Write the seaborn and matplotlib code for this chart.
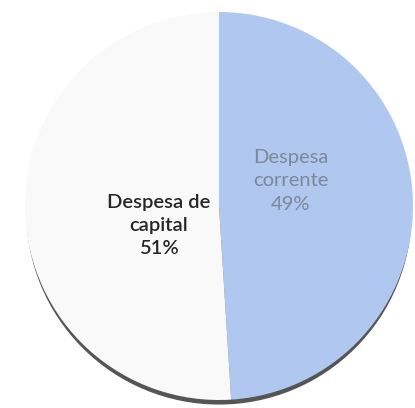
import matplotlib
matplotlib.use("Agg")
import matplotlib.pyplot as plt
from matplotlib.patches import Circle
import seaborn as sns

# Data
labels = ["Despesa\ncorrente", "Despesa de\ncapital"]
shares = [49, 51]
colors = ["#b0c8f0", "#f9f9f9"]
text_colors = ["#7b8898", "#262626"]
weights = ["normal", "semibold"]

sns.set_theme(style="white")
plt.rcParams['font.family'] = ['Lato', 'DejaVu Sans']

fig = plt.figure(figsize=(4.15, 4.08), dpi=100)
ax = fig.add_axes([0, 0, 1, 1])

# shadow under the pie (only shows along the bottom)
ax.add_patch(Circle((0.0, -0.03), 0.99, color="#555555", zorder=0))

wedges, _ = ax.pie(shares, colors=colors, startangle=90, counterclock=False,
                   radius=1.0, wedgeprops=dict(linewidth=0))
for w in wedges:
    w.set_zorder(1)

# labels
pos = [(0.37, 0.13), (-0.31, -0.10)]
for lab, s, (x, y), c, fw in zip(labels, shares, pos, text_colors, weights):
    ax.text(x, y, f"{lab}\n{s}%", ha="center", va="center", fontsize=14.5,
            color=c, fontweight=fw, linespacing=1.45, zorder=3)

ax.set_xlim(-219 / 194, (415 - 219) / 194)
ax.set_ylim(-(408 - 206) / 194, 206 / 194)
ax.set_aspect("equal")
ax.axis("off")

fig.savefig("out.png", dpi=100)
